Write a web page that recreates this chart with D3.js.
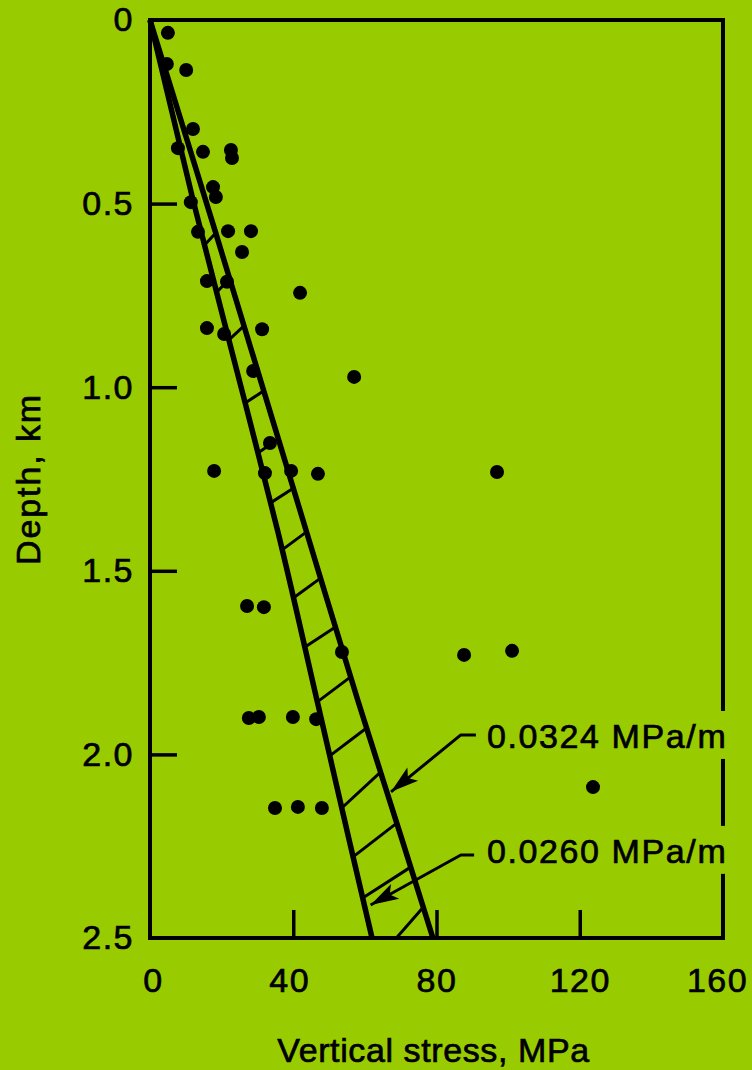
<!DOCTYPE html>
<html lang="en">
<head>
<meta charset="utf-8">
<title>Vertical stress versus depth</title>
<script src="https://d3js.org/d3.v7.min.js"></script>
<style>
  body { margin: 0; background: #99cc00; }
  svg text { font-family: 'Liberation Sans', Arial, sans-serif; fill: #000; stroke: #000; stroke-width: 0.7px; }
</style>
</head>
<body>
<div id="chart"></div>
<script>

// measured points: vertical stress (MPa) and depth (km)
var stress = [5.0, 4.7, 10.1, 12.0, 7.8, 14.8, 22.6, 22.9, 17.6, 18.4, 11.4,
              13.4, 21.8, 28.2, 25.7, 41.9, 15.9, 21.5, 15.9, 20.7, 31.3, 28.8,
              57.0, 33.5, 17.9, 32.1, 39.4, 46.9, 96.9, 27.1, 31.8, 53.6, 87.7,
              101.1, 27.6, 30.4, 39.9, 46.4, 34.9, 41.3, 48.0, 123.7];
var depth  = [0.035, 0.12, 0.136, 0.297, 0.349, 0.359, 0.354, 0.376, 0.455, 0.482, 0.496,
              0.577, 0.575, 0.575, 0.632, 0.743, 0.711, 0.713, 0.839, 0.855, 0.842, 0.956,
              0.972, 1.152, 1.228, 1.234, 1.228, 1.236, 1.231, 1.596, 1.599, 1.721, 1.729,
              1.718, 1.901, 1.898, 1.898, 1.904, 2.146, 2.143, 2.146, 2.089];

// the two gradient lines, [stress, depth] as drawn
var line0260 = [[0, 0], [12, 0.49], [26.5, 1.04], [35.8, 1.397], [46.8, 1.86], [55.6, 2.233], [62, 2.5]];
var line0324 = [[0, 0], [18.2, 0.575], [43.8, 1.397], [58.0, 1.852], [70.4, 2.233], [79, 2.5]];

// hatching between the lines: depth where a stroke leaves the left line / meets the right line
var hatchLow  = [0.613, 0.741, 0.871, 1.043, 1.179, 1.315, 1.443, 1.574, 1.708, 1.857, 2.004, 2.146, 2.279, 2.391, 2.560];
var hatchHigh = [0.580, 0.705, 0.833, 1.010, 1.141, 1.275, 1.394, 1.520, 1.653, 1.789, 1.928, 2.048, 2.187, 2.307, 2.416];

var xTicks = [0, 40, 80, 120, 160];
var yTicks = [0, 0.5, 1.0, 1.5, 2.0, 2.5];

// annotations
var labelText = ["0.0324 MPa/m", "0.0260 MPa/m"];
var labelPos  = [[94.1, 1.95], [94.1, 2.263]];
var leaders   = [[[91, 1.947], [86.8, 1.947], [67.3, 2.102]],
                 [[90.5, 2.274], [86.8, 2.274], [61.6, 2.41]]];

var bg = "#99cc00";
var margin = {top: 20, left: 150},
    width = 573,
    height = 918;

var svg = d3.select("#chart")
  .append("svg")
    .attr("width", 752)
    .attr("height", 1070);

var g = svg.append("g")
    .attr("transform", "translate(" + margin.left + "," + margin.top + ")");

var x = d3.scaleLinear().domain([0, 160]).range([0, width]);
var y = d3.scaleLinear().domain([0, 2.5]).range([0, height]);

g.append("clipPath").attr("id", "plotclip")
  .append("rect").attr("width", width).attr("height", height);

// x position on a drawn line at a given depth (extends past the last segment)
function lineAt(pts, d) {
  var i = 1;
  while (i < pts.length - 1 && pts[i][1] < d) i++;
  var a = pts[i - 1], b = pts[i];
  return a[0] + (b[0] - a[0]) * (d - a[1]) / (b[1] - a[1]);
}

// hatching
g.append("g")
    .attr("clip-path", "url(#plotclip)")
  .selectAll("line")
  .data(hatchLow)
  .enter()
  .append("line")
    .attr("x1", function(d) { return x(lineAt(line0260, d)); })
    .attr("y1", function(d) { return y(d); })
    .attr("x2", function(d, i) { return x(lineAt(line0324, hatchHigh[i])); })
    .attr("y2", function(d, i) { return y(hatchHigh[i]); })
    .attr("stroke", "#000")
    .attr("stroke-width", 3)
    .attr("stroke-linecap", "round");

// gradient lines
var path = d3.line()
  .x(function(d) { return x(d[0]); })
  .y(function(d) { return y(d[1]); });

var smooth = d3.line()
  .curve(d3.curveMonotoneY)
  .x(function(d) { return x(d[0]); })
  .y(function(d) { return y(d[1]); });

g.selectAll("path.grad")
  .data([line0260, line0324])
  .enter()
  .append("path")
    .attr("class", "grad")
    .attr("d", smooth)
    .attr("fill", "none")
    .attr("stroke", "#000")
    .attr("stroke-width", 5.5)
    .attr("stroke-linejoin", "round");

// points
g.selectAll("circle")
  .data(stress)
  .enter()
  .append("circle")
    .attr("cx", function(d) { return x(d); })
    .attr("cy", function(d, i) { return y(depth[i]); })
    .attr("r", 7)
    .attr("fill", "#000");

// frame
g.append("rect")
    .attr("width", width)
    .attr("height", height)
    .attr("fill", "none")
    .attr("stroke", "#000")
    .attr("stroke-width", 4);

// axes
var fmt = function(d) { return d === 0 ? "0" : d3.format(".1f")(d); };

var yAxis = g.append("g")
    .call(d3.axisLeft(y).tickValues(yTicks).tickFormat(fmt)
      .tickSizeInner(-27).tickSizeOuter(0).tickPadding(16));

var xAxis = g.append("g")
    .attr("transform", "translate(0," + height + ")")
    .call(d3.axisBottom(x).tickValues(xTicks)
      .tickSizeInner(-28).tickSizeOuter(0).tickPadding(30));

[yAxis, xAxis].forEach(function(ax) {
  ax.select(".domain").remove();
  ax.attr("font-size", 34)
    .attr("font-family", "'Liberation Sans', Arial, sans-serif");
  ax.selectAll("text").style("letter-spacing", "1.5px");
  ax.selectAll(".tick line")
    .attr("stroke", "#000")
    .attr("stroke-width", 3.5);
});
yAxis.selectAll(".tick").filter(function(d) { return d === 0 || d === 2.5; })
  .select("line").remove();
xAxis.selectAll(".tick").filter(function(d) { return d === 0 || d === 160; })
  .select("line").remove();
xAxis.selectAll(".tick").filter(function(d) { return d === 160; })
  .select("text").attr("dx", -6);
xAxis.selectAll(".tick").filter(function(d) { return d === 40; })
  .select("text").attr("dx", -4);
xAxis.selectAll(".tick").filter(function(d) { return d === 0; })
  .select("text").attr("dx", 3);

// axis titles
svg.append("text")
    .attr("transform", "translate(40," + (margin.top + height / 2) + ") rotate(-90)")
    .attr("text-anchor", "middle")
    .attr("font-size", 34)
    .style("letter-spacing", "1.9px")
    .text("Depth, km");

svg.append("text")
    .attr("x", margin.left + width / 2 - 3)
    .attr("y", 1062)
    .attr("text-anchor", "middle")
    .attr("font-size", 34)
    .style("letter-spacing", "0.6px")
    .text("Vertical stress, MPa");

// leaders with arrowheads
leaders.forEach(function(pts) {
  g.append("path")
      .attr("d", path(pts))
      .attr("fill", "none")
      .attr("stroke", "#000")
      .attr("stroke-width", 3)
      .attr("stroke-linejoin", "round");
  var a = pts[pts.length - 2], b = pts[pts.length - 1];
  var tx = x(b[0]), ty = y(b[1]);
  var dx = x(a[0]) - tx, dy = y(a[1]) - ty;
  var len = Math.sqrt(dx * dx + dy * dy);
  var ux = dx / len, uy = dy / len;
  var L = 28, W = 8.5;
  var head = [[tx, ty],
              [tx + ux * L - uy * W, ty + uy * L + ux * W],
              [tx + ux * L * 0.78, ty + uy * L * 0.78],
              [tx + ux * L + uy * W, ty + uy * L - ux * W]];
  g.append("path")
      .attr("d", "M" + head.join("L") + "Z")
      .attr("fill", "#000");
});

// gradient labels, masking the right border behind them
labelText.forEach(function(t, i) {
  var lbl = g.append("text")
      .attr("x", x(labelPos[i][0]))
      .attr("y", y(labelPos[i][1]))
      .attr("dy", "0.35em")
      .attr("font-size", 34)
      .style("letter-spacing", "1.6px")
      .text(t);
  var bb = lbl.node().getBBox();
  g.insert("rect", function() { return lbl.node(); })
      .attr("x", bb.x)
      .attr("y", bb.y - 6)
      .attr("width", bb.width + 6)
      .attr("height", bb.height + 10)
      .attr("fill", bg);
});

</script>
</body>
</html>
